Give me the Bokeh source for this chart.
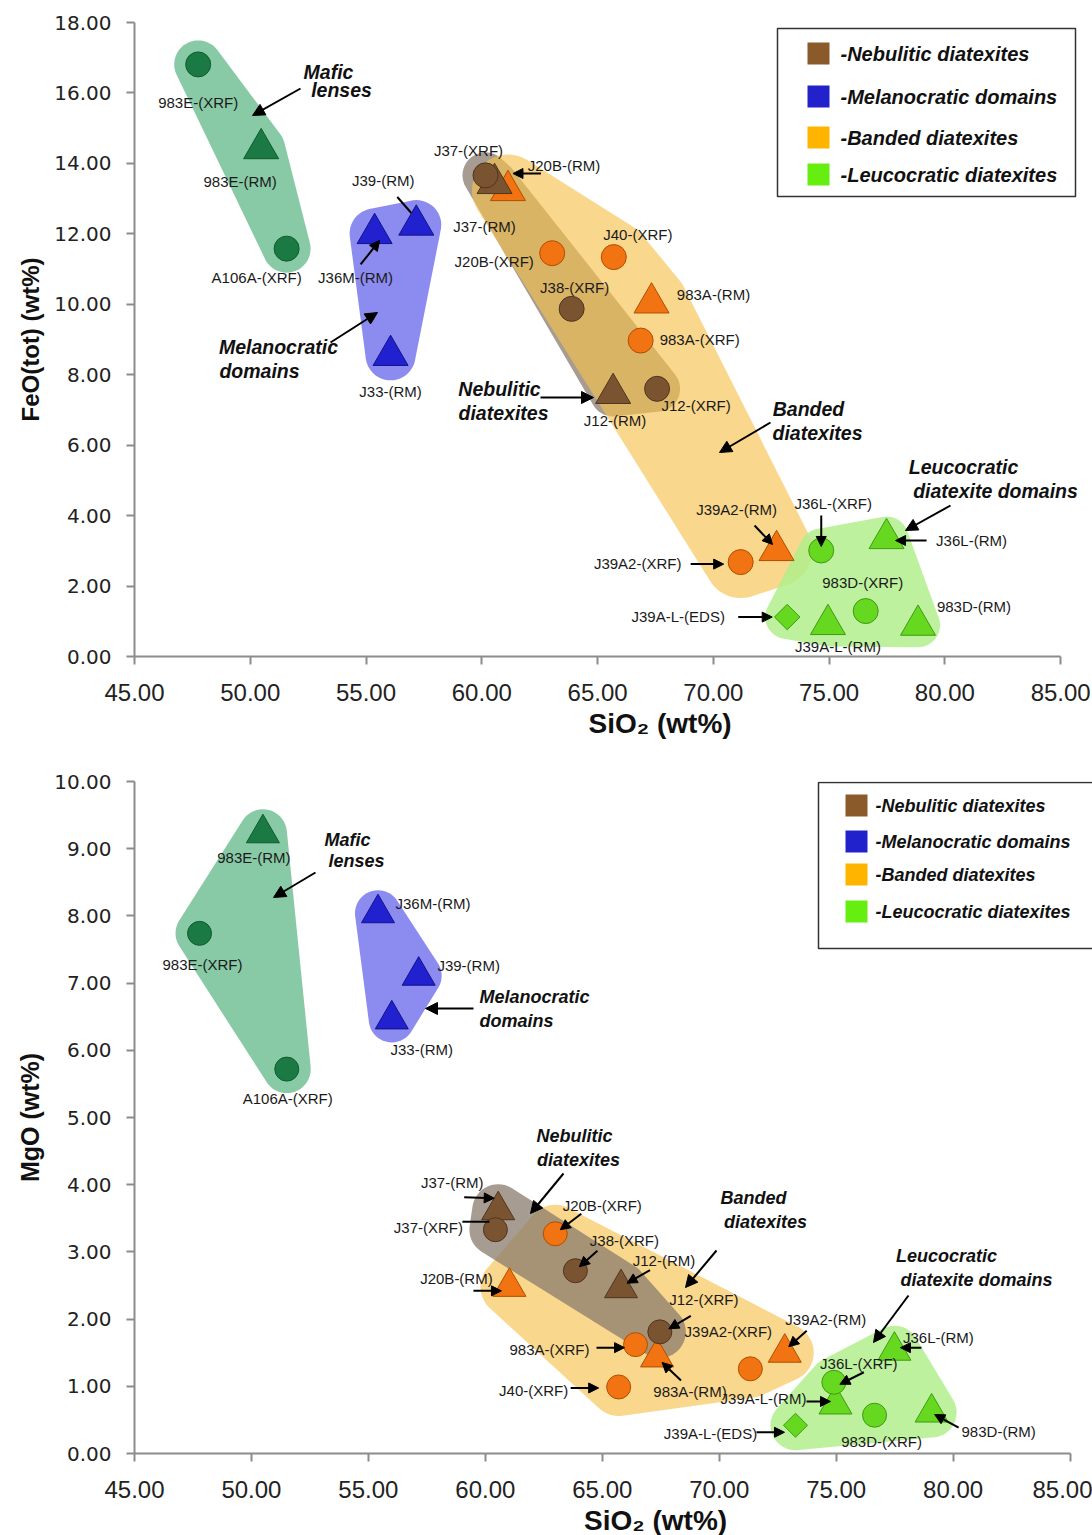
import numpy as np
from bokeh.plotting import figure
from bokeh.models import (Range1d, FixedTicker, PrintfTickFormatter, Label, LabelSet,
                          Arrow, NormalHead, ColumnDataSource)
from bokeh.layouts import column
from bokeh.core.properties import value
from bokeh.embed import file_html
from bokeh.resources import INLINE

# ---------------------------------------------------------------- data
samples = ["983E-(XRF)", "983E-(RM)", "A106A-(XRF)",
           "J36M-(RM)", "J39-(RM)", "J33-(RM)",
           "J37-(XRF)", "J37-(RM)", "J38-(XRF)", "J12-(RM)", "J12-(XRF)",
           "J20B-(RM)", "J20B-(XRF)", "J40-(XRF)", "983A-(RM)", "983A-(XRF)",
           "J39A2-(RM)", "J39A2-(XRF)",
           "J36L-(XRF)", "J36L-(RM)", "J39A-L-(EDS)", "J39A-L-(RM)",
           "983D-(XRF)", "983D-(RM)"]
groups = (["mafic"] * 3 + ["melano"] * 3 + ["nebulitic"] * 5
          + ["banded"] * 7 + ["leuco"] * 6)

# SiO2 vs FeO(tot) diagram
sio2_feo = [47.75, 50.47, 51.57, 55.37, 57.17, 56.06,
            60.16, 60.55, 63.88, 65.67, 67.57,
            61.13, 63.04, 65.70, 67.33, 66.86, 72.73, 71.18,
            74.66, 77.48, 73.19, 74.95, 76.58, 78.84]
feo_tot = [16.81, 14.42, 11.58, 12.01, 12.25, 8.55,
           13.66, 13.43, 9.87, 7.47, 7.60,
           13.23, 11.45, 11.34, 10.04, 8.97, 3.01, 2.68,
           3.01, 3.35, 1.12, 0.91, 1.29, 0.89]

# SiO2 vs MgO diagram
sio2_mgo = [47.78, 50.49, 51.51, 55.41, 57.15, 56.00,
            60.43, 60.55, 63.85, 65.80, 67.46,
            61.03, 62.99, 65.70, 67.34, 66.42, 72.80, 71.33,
            74.90, 77.49, 73.26, 74.97, 76.64, 79.08]
mgo = [7.74, 9.23, 5.72, 8.04, 7.11, 6.46,
       3.33, 3.62, 2.72, 2.46, 1.81,
       2.48, 3.27, 0.99, 1.43, 1.62, 1.50, 1.26,
       1.06, 1.53, 0.42, 0.73, 0.57, 0.61]

legend_groups = ["nebulitic", "melano", "banded", "leuco"]
legend_labels = ["-Nebulitic diatexites", "-Melanocratic domains",
                 "-Banded diatexites", "-Leucocratic diatexites"]

x_ticks = [45, 50, 55, 60, 65, 70, 75, 80, 85]
feo_ticks = [0, 2, 4, 6, 8, 10, 12, 14, 16, 18]
mgo_ticks = [0, 1, 2, 3, 4, 5, 6, 7, 8, 9, 10]

x_title = "SiO\u2082  (wt%)"
feo_title = "FeO(tot) (wt%)"
mgo_title = "MgO (wt%)"

# ---------------------------------------------------------------- styles
MARK_FILL = {"mafic": "#1b7a43", "melano": "#2121cf", "nebulitic": "#7a5431",
             "banded": "#f27312", "leuco": "#66d81f"}
MARK_LINE = {"mafic": "#0f5a2c", "melano": "#12128a", "nebulitic": "#4f3520",
             "banded": "#b04e00", "leuco": "#3f9a12"}
ZONE_FILL = {"mafic": "#7cc49c", "melano": "#8080ee", "nebulitic": "#8a7b6c",
             "banded": "#f6c24e", "leuco": "#b2ee8c"}
ZONE_ALPHA = {"mafic": 0.9, "melano": 0.9, "nebulitic": 0.75,
              "banded": 0.65, "leuco": 0.85}
LEGEND_FILL = {"nebulitic": "#8b5a2b", "melano": "#2222cc",
               "banded": "#ffb400", "leuco": "#66ee11"}
MARKER_ORDER = ["mafic", "melano", "banded", "leuco", "nebulitic"]


def method(name):
    return name.split("(")[-1].rstrip(")")


class Panel:
    """Pixel <-> data helper for one diagram (page pixel coordinates)."""

    def __init__(self, left, top, frame_w, frame_h, x_end, y_end):
        self.left, self.top = left, top
        self.frame_w, self.frame_h = frame_w, frame_h
        self.x_end, self.y_end = x_end, y_end
        self.sx = frame_w / (x_end - 45.0)
        self.sy = frame_h / y_end
        self.bottom = top + frame_h

    def X(self, px):
        return 45.0 + (px - self.left) / self.sx

    def Y(self, py):
        return (self.bottom - py) / self.sy


def convex_hull(points):
    pts = sorted(set(points))

    def cross(o, a, b):
        return (a[0] - o[0]) * (b[1] - o[1]) - (a[1] - o[1]) * (b[0] - o[0])

    lower, upper = [], []
    for pt in pts:
        while len(lower) >= 2 and cross(lower[-2], lower[-1], pt) <= 0:
            lower.pop()
        lower.append(pt)
    for pt in reversed(pts):
        while len(upper) >= 2 and cross(upper[-2], upper[-1], pt) <= 0:
            upper.pop()
        upper.append(pt)
    return lower[:-1] + upper[:-1]


def rounded_zone(panel, xs, ys, radius):
    """Rounded envelope (radius in screen px) around a group of samples."""
    pts = []
    for x, y in zip(xs, ys):
        cx, cy = (x - 45.0) * panel.sx, y * panel.sy
        for t in np.linspace(0, 2 * np.pi, 48, endpoint=False):
            pts.append((round(cx + radius * np.cos(t), 3),
                        round(cy + radius * np.sin(t), 3)))
    hull = convex_hull(pts)
    hx = [45.0 + px / panel.sx for px, _ in hull]
    hy = [py / panel.sy for _, py in hull]
    return hx, hy


def build(panel, xs, ys, y_ticks, min_border, zone_radius, zone_order,
          sizes, label_off, label_arrows, notes, note_arrows, note_size,
          legend_box, legend_rows, legend_swatch_x, legend_text_x, legend_size,
          y_title, y_title_size, x_pad):
    p = figure(frame_width=panel.frame_w, frame_height=panel.frame_h,
               x_range=Range1d(45, panel.x_end), y_range=Range1d(0, panel.y_end),
               output_backend="svg", toolbar_location=None,
               min_border_left=min_border[0], min_border_right=min_border[1],
               min_border_top=min_border[2], min_border_bottom=min_border[3],
               background_fill_color="white", border_fill_color="white")
    p.grid.visible = False
    p.outline_line_color = None

    p.xaxis.ticker = FixedTicker(ticks=x_ticks)
    p.xaxis.bounds = (45, 85)
    p.yaxis.ticker = FixedTicker(ticks=y_ticks)
    p.xaxis.formatter = PrintfTickFormatter(format="%.2f")
    p.yaxis.formatter = PrintfTickFormatter(format="%.2f")
    for ax in (p.xaxis[0], p.yaxis[0]):
        ax.axis_line_color = "#8c8c8c"
        ax.axis_line_width = 2
        ax.major_tick_line_color = "#8c8c8c"
        ax.major_tick_line_width = 2
        ax.major_tick_out = 8
        ax.major_tick_in = 0
        ax.minor_tick_line_color = None
        ax.major_label_text_color = "#222222"
        ax.axis_label_text_font = "Liberation Sans"
        ax.axis_label_text_font_style = "bold"
        ax.axis_label_text_color = "#111111"
    p.xaxis.major_label_text_font = "Liberation Sans"
    p.xaxis.major_label_text_font_size = "24px"
    p.xaxis.major_label_standoff = 19
    p.yaxis.major_label_text_font = "DejaVu Sans"
    p.yaxis.major_label_text_font_size = "20px"
    p.yaxis.major_label_standoff = 15

    # axis titles; the SiO2 title sits right of the axis centre
    p.xaxis.axis_label = "\u2002" * x_pad + x_title
    p.xaxis.axis_label_text_font_size = "28px"
    p.xaxis.axis_label_standoff = 4
    p.yaxis.axis_label = y_title
    p.yaxis.axis_label_text_font_size = y_title_size
    p.yaxis.axis_label_standoff = 7

    # group envelopes
    for g in zone_order:
        idx = [i for i, gg in enumerate(groups) if gg == g]
        hx, hy = rounded_zone(panel, [xs[i] for i in idx], [ys[i] for i in idx],
                              zone_radius[g])
        p.patch(hx, hy, fill_color=ZONE_FILL[g], fill_alpha=ZONE_ALPHA[g],
                line_color=None)

    # samples
    for g in MARKER_ORDER:
        for m, shape in (("RM", "triangle"), ("XRF", "circle"), ("EDS", "square")):
            idx = [i for i, (gg, nn) in enumerate(zip(groups, samples))
                   if gg == g and method(nn) == m]
            if not idx:
                continue
            src = ColumnDataSource(dict(x=[xs[i] for i in idx], y=[ys[i] for i in idx]))
            p.scatter("x", "y", source=src, marker=shape, size=sizes[m],
                      angle=(np.pi / 4 if m == "EDS" else 0.0),
                      fill_color=MARK_FILL[g], line_color=MARK_LINE[g], line_width=1)

    # sample labels, placed at pixel offsets from their points
    lx, ly = [], []
    for i, name in enumerate(samples):
        dx, dy = label_off[name]
        lx.append(xs[i] + dx / panel.sx)
        ly.append(ys[i] - dy / panel.sy)
    lsrc = ColumnDataSource(dict(x=lx, y=ly, text=samples))
    p.add_layout(LabelSet(x="x", y="y", text="text", source=lsrc,
                          text_font=value("Liberation Sans"), text_font_size="15px",
                          text_color="#1a1a1a", text_align="center",
                          text_baseline="middle"))

    for name, (x0, y0, x1, y1, head) in label_arrows.items():
        i = samples.index(name)
        p.add_layout(Arrow(
            end=NormalHead(size=10, fill_color="black", line_color="black") if head else None,
            x_start=xs[i] + x0 / panel.sx, y_start=ys[i] - y0 / panel.sy,
            x_end=xs[i] + x1 / panel.sx, y_end=ys[i] - y1 / panel.sy,
            line_color="black", line_width=2))

    # group notes
    for text, cx, cy in notes:
        p.add_layout(Label(x=panel.X(cx), y=panel.Y(cy), text=text,
                           text_font="Liberation Sans", text_font_style="bold italic",
                           text_font_size=note_size, text_color="#111111",
                           text_align="center", text_baseline="middle"))
    for x0, y0, x1, y1 in note_arrows:
        p.add_layout(Arrow(end=NormalHead(size=12, fill_color="black", line_color="black"),
                           x_start=panel.X(x0), y_start=panel.Y(y0),
                           x_end=panel.X(x1), y_end=panel.Y(y1),
                           line_color="black", line_width=2))

    # legend
    bl, bt, br, bb = legend_box
    p.quad(left=[panel.X(bl)], right=[panel.X(br)], top=[panel.Y(bt)],
           bottom=[panel.Y(bb)], fill_color="white", line_color="#333333",
           line_width=1.5)
    half = 11
    for g, lab, ry in zip(legend_groups, legend_labels, legend_rows):
        p.quad(left=[panel.X(legend_swatch_x - half)], right=[panel.X(legend_swatch_x + half)],
               top=[panel.Y(ry - half)], bottom=[panel.Y(ry + half)],
               fill_color=LEGEND_FILL[g], line_color=None)
        p.text(x=[panel.X(legend_text_x)], y=[panel.Y(ry)], text=[lab],
               text_font=value("Liberation Sans"), text_font_style="bold italic",
               text_font_size=legend_size, text_color="#111111",
               text_align="left", text_baseline="middle")
    return p


# ---------------------------------------------------------------- upper diagram
top = Panel(left=134, top=22, frame_w=947, frame_h=634, x_end=85.9, y_end=18)
top_label_off = {
    "983E-(XRF)": (0, 38), "983E-(RM)": (-21, 33), "A106A-(XRF)": (-30, 29),
    "J36M-(RM)": (-19, 44), "J39-(RM)": (-33, -45), "J33-(RM)": (0, 36),
    "J37-(XRF)": (-17, -25), "J37-(RM)": (-10, 43), "J38-(XRF)": (3, -21),
    "J12-(RM)": (2, 27), "J12-(XRF)": (39, 17), "J20B-(RM)": (56, -25),
    "J20B-(XRF)": (-58, 8), "J40-(XRF)": (24, -23), "983A-(RM)": (62, -8),
    "983A-(XRF)": (59, -1), "J39A2-(RM)": (-40, -41), "J39A2-(XRF)": (-103, 1),
    "J36L-(XRF)": (12, -47), "J36L-(RM)": (85, 2), "J39A-L-(EDS)": (-109, -1),
    "J39A-L-(RM)": (10, 22), "983D-(XRF)": (-3, -29), "983D-(RM)": (56, -19),
}
top_label_arrows = {
    "J36M-(RM)": (-14, 31, 5, 7, True),
    "J39-(RM)": (-19, -28, -5, -12, False),
    "J20B-(RM)": (33, -17, 5, -17, True),
    "J39A2-(RM)": (-22, -25, -4, -6, True),
    "J39A2-(XRF)": (-50, 2, -17, 2, True),
    "J36L-(XRF)": (0, -35, 0, -4, True),
    "J36L-(RM)": (40, 2, 9, 2, True),
    "J39A-L-(EDS)": (-49, 0, -15, 0, True),
}
top_notes = [("Mafic", 328, 71), ("lenses", 341, 89),
             ("Melanocratic", 278, 346), ("domains", 259, 370),
             ("Nebulitic", 499, 388), ("diatexites", 503, 412),
             ("Banded", 808, 408), ("diatexites", 817, 432),
             ("Leucocratic", 963, 466), ("diatexite domains", 995, 490)]
top_note_arrows = [(300, 88, 252, 115), (330, 342, 377, 312), (540, 397, 593, 397),
                   (770, 422, 719, 452), (950, 505, 905, 530)]
p_top = build(
    top, sio2_feo, feo_tot, feo_ticks, (134, 11, 22, 94),
    {"mafic": 24, "melano": 25, "nebulitic": 23, "banded": 36, "leuco": 22},
    ["mafic", "melano", "nebulitic", "banded", "leuco"],
    {"RM": 35, "XRF": 25, "EDS": 18},
    top_label_off, top_label_arrows, top_notes, top_note_arrows, "19.5px",
    (777, 28, 1075, 196), [53, 96, 137, 174], 818, 840, "20px",
    feo_title, "24px", 8)

# ---------------------------------------------------------------- lower diagram
bot = Panel(left=121, top=781, frame_w=966, frame_h=672, x_end=86.3, y_end=10)
bot_label_off = {
    "983E-(XRF)": (3, 31), "983E-(RM)": (-9, 24), "A106A-(XRF)": (1, 29),
    "J36M-(RM)": (55, -10), "J39-(RM)": (50, -10), "J33-(RM)": (30, 30),
    "J37-(XRF)": (-67, -2), "J37-(RM)": (-46, -28), "J38-(XRF)": (49, -30),
    "J12-(RM)": (43, -28), "J12-(XRF)": (44, -32), "J20B-(RM)": (-53, -8),
    "J20B-(XRF)": (47, -28), "J40-(XRF)": (-85, 4), "983A-(RM)": (33, 34),
    "983A-(XRF)": (-86, 5), "J39A2-(RM)": (41, -33), "J39A2-(XRF)": (-22, -37),
    "J36L-(XRF)": (25, -19), "J36L-(RM)": (44, -13), "J39A-L-(EDS)": (-85, 8),
    "J39A-L-(RM)": (-72, -6), "983D-(XRF)": (7, 26), "983D-(RM)": (67, 19),
}
bot_label_arrows = {
    "J37-(XRF)": (-33, -8, -6, -8, False),
    "J37-(RM)": (-34, -13, -4, -12, True),
    "J38-(XRF)": (22, -20, 4, -4, True),
    "J12-(RM)": (29, -18, 6, -5, True),
    "J12-(XRF)": (31, -16, 9, -3, True),
    "J20B-(RM)": (-36, 4, -8, 4, True),
    "J20B-(XRF)": (26, -20, 5, -4, True),
    "J40-(XRF)": (-48, 1, -20, 1, True),
    "983A-(RM)": (24, 23, 5, 5, True),
    "983A-(XRF)": (-39, 3, -11, 3, True),
    "J39A2-(RM)": (22, -22, 4, -6, True),
    "J36L-(XRF)": (30, -10, 6, 2, True),
    "J36L-(RM)": (27, -3, 6, -3, True),
    "J39A-L-(EDS)": (-39, 7, -11, 7, True),
    "J39A-L-(RM)": (-29, -3, -5, -3, True),
    "983D-(RM)": (27, 15, 3, 2, True),
}
bot_notes = [("Mafic", 334, 839), ("lenses", 343, 860),
             ("Melanocratic", 521, 996), ("domains", 503, 1020),
             ("Nebulitic", 561, 1135), ("diatexites", 565, 1159),
             ("Banded", 740, 1197), ("diatexites", 752, 1221),
             ("Leucocratic", 933, 1255), ("diatexite domains", 963, 1279)]
bot_note_arrows = [(302, 872, 260, 897), (460, 1008, 412, 1008),
                   (550, 1173, 517, 1213), (703, 1250, 672, 1287),
                   (895, 1295, 860, 1342)]
p_bot = build(
    bot, sio2_mgo, mgo, mgo_ticks, (121, 5, 31, 82),
    {"mafic": 24, "melano": 23, "nebulitic": 26, "banded": 29, "leuco": 25},
    ["mafic", "melano", "banded", "nebulitic", "leuco"],
    {"RM": 33, "XRF": 24, "EDS": 17},
    bot_label_off, bot_label_arrows, bot_notes, bot_note_arrows, "18px",
    (805, 782, 1083, 948), [805, 841, 874, 911], 843, 862, "18px",
    mgo_title, "25px", 6)

layout = column(p_top, p_bot, spacing=0)
open("out.html", "w").write(file_html(layout, INLINE))
